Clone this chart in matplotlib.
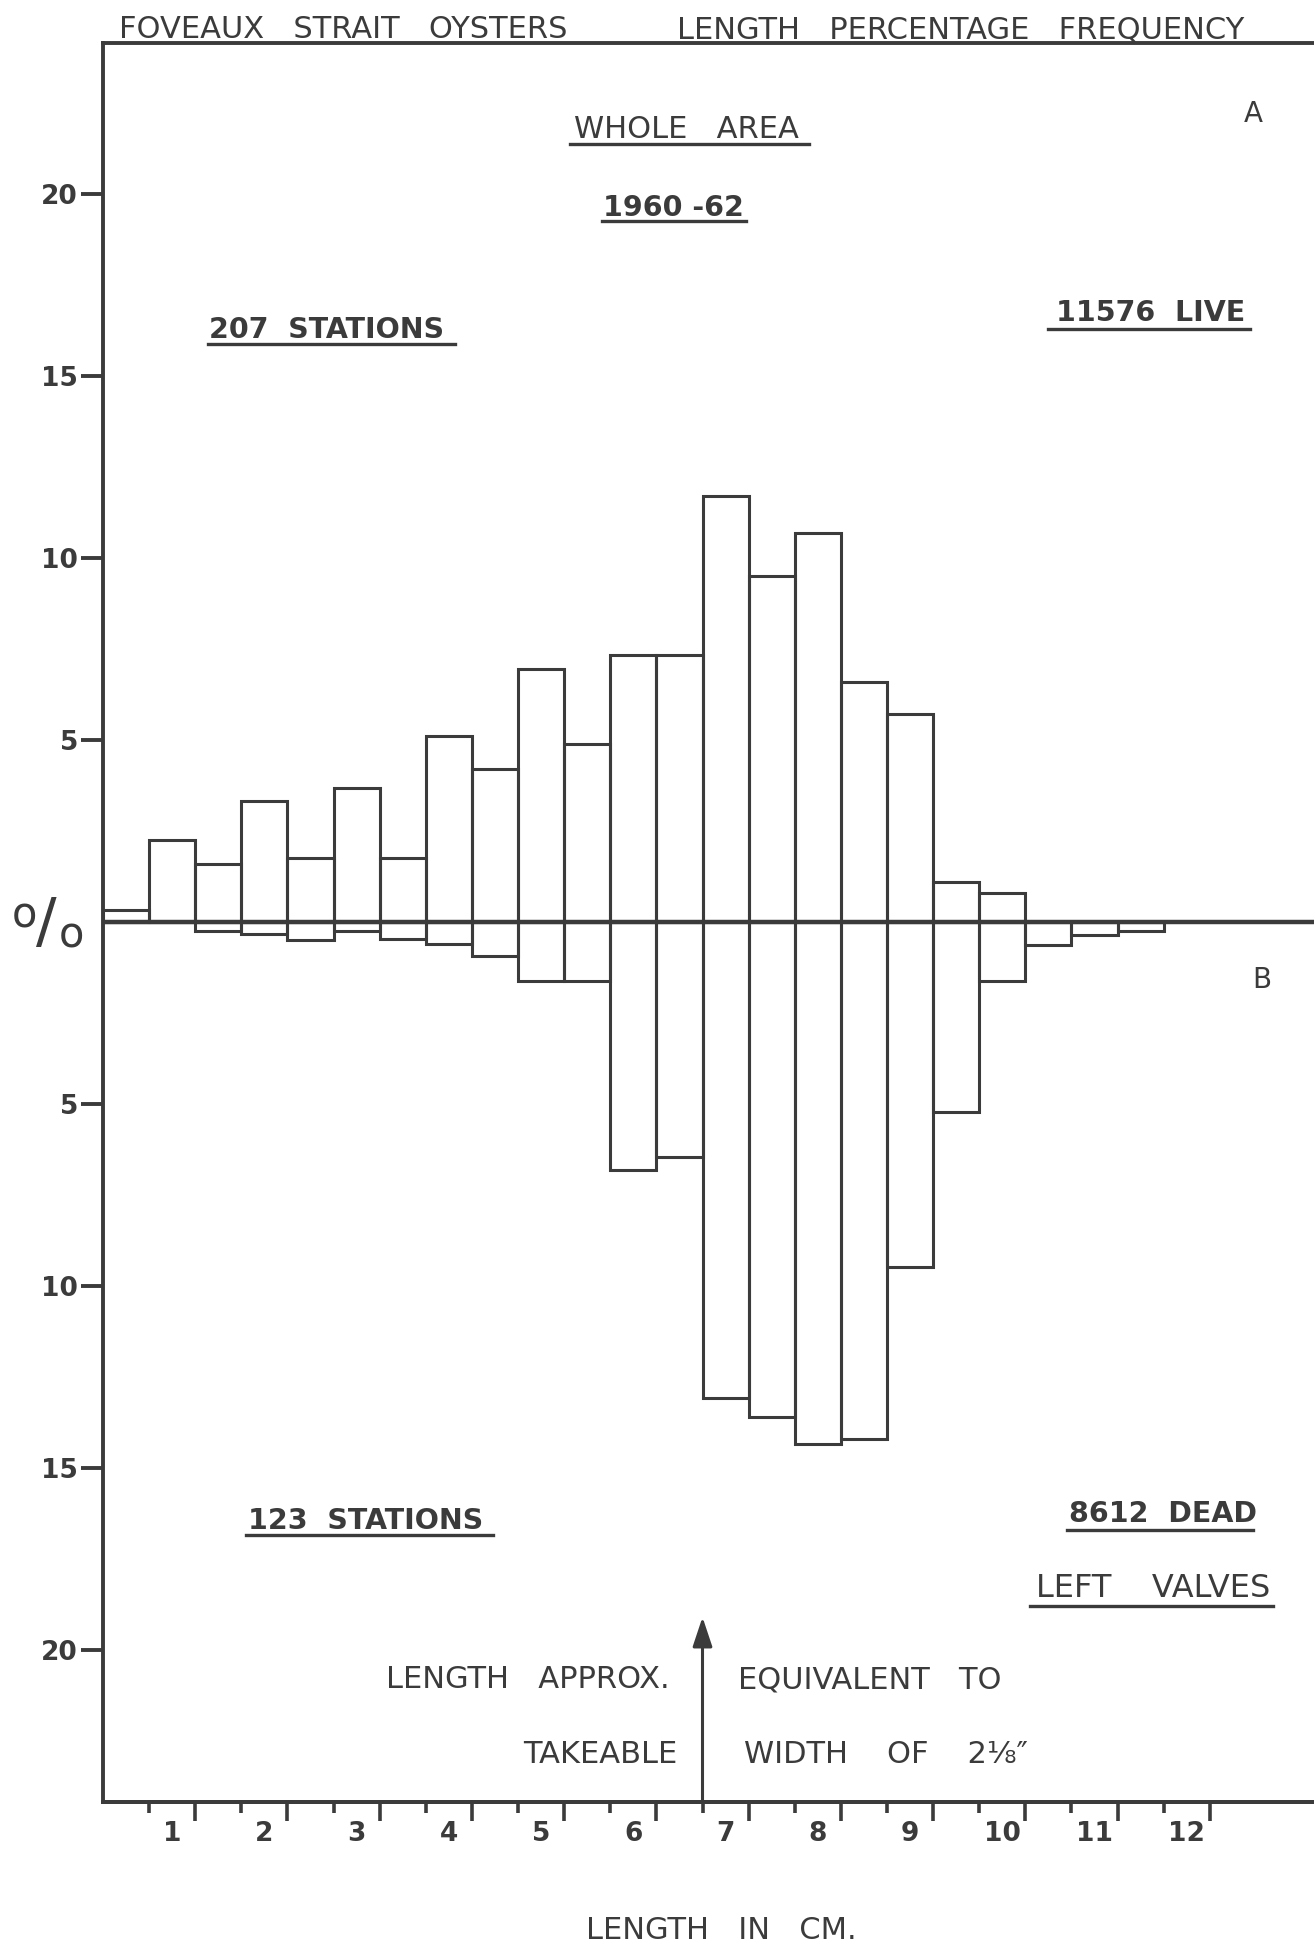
import matplotlib
matplotlib.use("Agg")
import matplotlib.pyplot as plt
from matplotlib.lines import Line2D

# ---- data: length percentage frequency, half-centimetre classes ----
bin_centres = [0.5, 1.0, 1.5, 2.0, 2.5, 3.0, 3.5, 4.0, 4.5, 5.0, 5.5, 6.0,
               6.5, 7.0, 7.5, 8.0, 8.5, 9.0, 9.5, 10.0, 10.5, 11.0, 11.5]
bin_width = 0.5

# A: live oysters (11576, 207 stations)
live_pct = [0.32, 2.26, 1.58, 3.31, 1.75, 3.68, 1.75, 5.12, 4.21, 6.96, 4.89, 7.33,
            7.33, 11.7, 9.5, 10.7, 6.59, 5.7, 1.11, 0.8, 0.0, 0.0, 0.0]

# B: dead left valves (8612, 123 stations)
dead_pct = [0.0, 0.0, 0.26, 0.33, 0.49, 0.26, 0.47, 0.6, 0.94, 1.62, 1.62, 6.82,
            6.45, 13.07, 13.6, 14.35, 14.2, 9.48, 5.22, 1.62, 0.62, 0.36, 0.25]

y_tick_values = [-20, -15, -10, -5, 5, 10, 15, 20]
y_tick_labels = ["20", "15", "10", "5", "5", "10", "15", "20"]
x_tick_values = [1, 2, 3, 4, 5, 6, 7, 8, 9, 10, 11, 12]
x_tick_labels = ["1", "2", "3", "4", "5", "6", "7", "8", "9", "10", "11", "12"]
edge_short = [0.75, 1.75, 2.75, 3.75, 4.75, 5.75, 6.75, 7.75, 8.75, 9.75, 10.75, 11.75]
edge_long = [1.25, 2.25, 3.25, 4.25, 5.25, 6.25, 7.25, 8.25, 9.25, 10.25, 11.25, 12.25]
takeable_length = 6.75
takeable_arrow_tip = -19.1

# ---- figure ----
W, H = 1314, 1946
INK = "#3b3b3b"
plt.rcParams["font.family"] = ["DejaVu Sans"]

fig = plt.figure(figsize=(W / 100, H / 100), dpi=100)
fig.patch.set_facecolor("white")


def fx(x):
    return x / W


def fy(y):
    return 1 - y / H


ax_left, ax_top, ax_bottom = 103, 43, 1802
ax = fig.add_axes([fx(ax_left), fy(ax_bottom), 1 - fx(ax_left), (ax_bottom - ax_top) / H])
ax.set_xlim(0.25, 13.38)
ax.set_ylim(-24.18, 24.15)

ax.bar(bin_centres, live_pct, width=bin_width, fill=False, edgecolor=INK,
       linewidth=2.2, zorder=2)
ax.bar(bin_centres, [-v for v in dead_pct], width=bin_width, fill=False,
       edgecolor=INK, linewidth=2.2, zorder=2)
ax.axhline(0, color=INK, linewidth=3.2, zorder=3)

for side in ("left", "bottom", "top"):
    ax.spines[side].set_color(INK)
    ax.spines[side].set_linewidth(2.8)
ax.spines["right"].set_visible(False)

# y axis: percentages both ways from the zero line
ax.set_yticks(y_tick_values)
ax.set_yticklabels(y_tick_labels, fontsize=19, fontweight="bold", color=INK)
ax.tick_params(axis="y", direction="out", length=16, width=2.8, color=INK, pad=2)

# x axis: numbers centred on the whole centimetres, marks on the class edges
ax.set_xticks(x_tick_values)
ax.set_xticklabels(x_tick_labels, fontsize=19, fontweight="bold", color=INK)
ax.tick_params(axis="x", which="major", length=0, pad=14)
ax.set_xticks(edge_short, minor=True)
ax.tick_params(axis="x", which="minor", direction="out", length=8, width=2.6, color=INK)
sec = ax.secondary_xaxis("bottom")
sec.set_xticks(edge_long)
sec.set_xticklabels([])
sec.tick_params(axis="x", direction="out", length=14, width=2.6, color=INK)
sec.spines["bottom"].set_color(INK)
sec.spines["bottom"].set_linewidth(2.8)

# arrow marking the takeable length
ax.annotate("", xy=(takeable_length, takeable_arrow_tip),
            xytext=(takeable_length, -24.18),
            arrowprops=dict(arrowstyle="-|>,head_length=0.9,head_width=0.3",
                            mutation_scale=20, color=INK, lw=2.2,
                            shrinkA=0, shrinkB=0), zorder=4)


def label(x, y, s, size=22, weight="normal", ha="center", underline=None):
    fig.text(fx(x), fy(y), s, fontsize=size, fontweight=weight, color=INK,
             ha=ha, va="baseline")
    if underline is not None:
        x0, x1, yu = underline
        fig.add_artist(Line2D([fx(x0), fx(x1)], [fy(yu), fy(yu)],
                              color=INK, linewidth=2.4))


label(343, 38, "FOVEAUX   STRAIT   OYSTERS", size=22)
label(961, 38, "LENGTH   PERCENTAGE   FREQUENCY", size=22)
label(686, 138, "WHOLE   AREA", size=22, underline=(570, 809, 144))
label(673, 216, "1960 -62", size=20.5, weight="bold", underline=(602, 746, 221))
label(1253, 122, "A", size=20)
label(327, 338, "207  STATIONS", size=20.5, weight="bold", underline=(208, 455, 344))
label(1151, 321, "11576  LIVE", size=20.5, weight="bold", underline=(1048, 1250, 329))
label(1262, 988, "B", size=20)
label(366, 1529, "123  STATIONS", size=20.5, weight="bold", underline=(246, 493, 1535))
label(1163, 1522, "8612  DEAD", size=20.5, weight="bold", underline=(1067, 1253, 1530))
label(1153, 1597, "LEFT    VALVES", size=23, underline=(1030, 1273, 1606))
label(670, 1688, "LENGTH   APPROX.", size=22, ha="right")
label(738, 1688, "EQUIVALENT   TO", size=22, ha="left")
label(677, 1763, "TAKEABLE", size=22, ha="right")
label(744, 1763, "WIDTH    OF    2\u215b\u2033", size=22, ha="left")
label(721, 1939, "LENGTH   IN   CM.", size=22)

# per-cent sign on the zero line
fig.text(fx(24), fy(916), "o", fontsize=30, color=INK, ha="center", va="center")
fig.text(fx(46), fy(925), "/", fontsize=44, color=INK, ha="center", va="center")
fig.text(fx(71), fy(935), "o", fontsize=30, color=INK, ha="center", va="center")

fig.savefig("out.png", dpi=100, facecolor="white")
